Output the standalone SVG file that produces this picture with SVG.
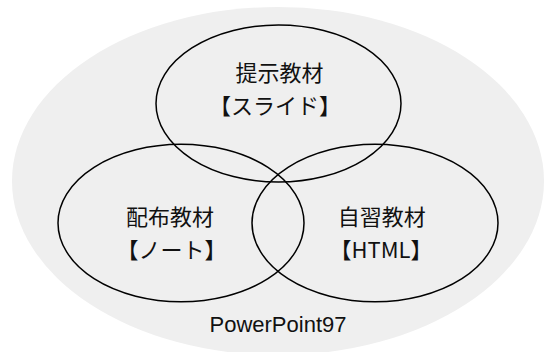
<svg xmlns="http://www.w3.org/2000/svg" width="544" height="352" viewBox="0 0 544 352">
<style>
.set{fill:none;stroke:#000;stroke-width:1.5}
.lbl{font-family:"Noto Sans CJK JP","Noto Sans",sans-serif;font-size:22px;fill:#111;text-anchor:middle}
.cap{font-family:"Liberation Sans",Arial,sans-serif;font-size:22px;fill:#111;text-anchor:middle}
</style>
<g id="powerpoint97">
<ellipse cx="278" cy="181" rx="266" ry="174" fill="#efefef"/>
<text class="cap" x="278" y="332">PowerPoint97</text>
</g>
<g id="connectors"></g>
<g id="slide">
<ellipse class="set" cx="278.5" cy="103.5" rx="122.5" ry="78.5"/>
<text class="lbl" x="279.5" y="81">提示教材</text>
<text class="lbl" x="275" y="114">【スライド】</text>
</g>
<g id="note">
<ellipse class="set" cx="181" cy="223" rx="123" ry="78.7"/>
<text class="lbl" x="170" y="225">配布教材</text>
<text class="lbl" x="171.5" y="258">【ノート】</text>
</g>
<g id="html">
<ellipse class="set" cx="375" cy="223" rx="123" ry="78.7"/>
<text class="lbl" x="381.7" y="225">自習教材</text>
<text class="lbl" x="381" y="258">【HTML】</text>
</g>
</svg>
